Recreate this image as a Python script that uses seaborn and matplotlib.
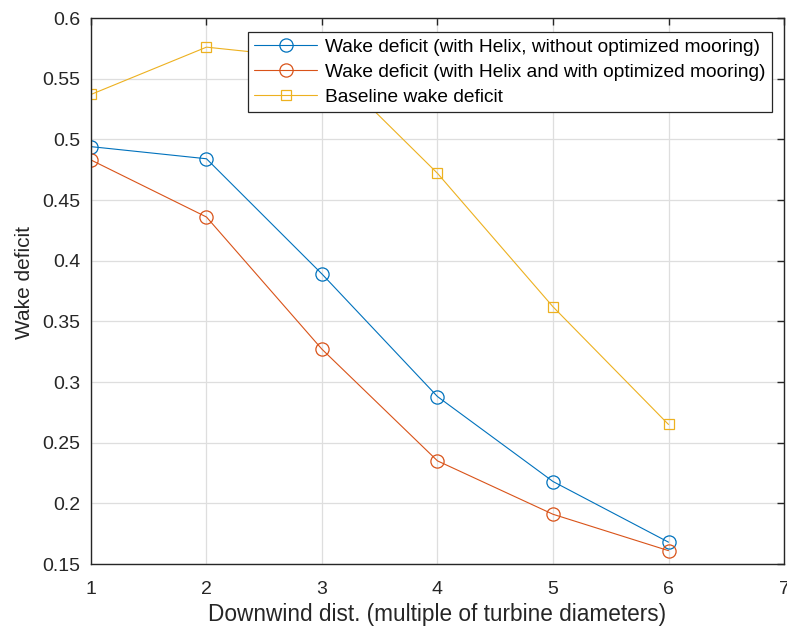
import matplotlib
matplotlib.use("Agg")
import matplotlib.pyplot as plt
import seaborn as sns
import pandas as pd

dist = [1, 2, 3, 4, 5, 6]
helix_no_mooring = [0.494, 0.484, 0.389, 0.288, 0.218, 0.168]
helix_mooring = [0.483, 0.436, 0.327, 0.235, 0.191, 0.161]
baseline = [0.537, 0.576, 0.566, 0.472, 0.362, 0.265]

labels = ["Wake deficit (with Helix, without optimized mooring)",
          "Wake deficit (with Helix and with optimized mooring)",
          "Baseline wake deficit"]
colors = ["#0072BD", "#D95319", "#EDB120"]
markers = ["o", "o", "s"]
msizes = [9.5, 9.5, 7.5]

sns.set_style("white")
plt.rcParams['font.family'] = ['Liberation Sans', 'DejaVu Sans']

fig = plt.figure(figsize=(7.87, 6.28), dpi=100)
ax = fig.add_axes([0.1156, 0.1019, 0.8806, 0.8694])

for vals, lab, c, m, ms in zip([helix_no_mooring, helix_mooring, baseline], labels, colors, markers, msizes):
    df = pd.DataFrame({"x": dist, "y": vals})
    sns.lineplot(data=df, x="x", y="y", ax=ax, color=c, marker=m, markersize=ms,
                 markerfacecolor="none", markeredgecolor=c, markeredgewidth=0.9,
                 linewidth=0.8, label=lab)

ax.set_xlim(1, 7)
ax.set_ylim(0.15, 0.6)
ax.set_xticks([1, 2, 3, 4, 5, 6, 7])
ax.set_yticks([0.15, 0.2, 0.25, 0.3, 0.35, 0.4, 0.45, 0.5, 0.55, 0.6])
ax.set_yticklabels(["0.15", "0.2", "0.25", "0.3", "0.35", "0.4", "0.45", "0.5", "0.55", "0.6"])
ax.grid(True, color="#dedede", linewidth=0.9)
ax.set_axisbelow(True)
for s in ax.spines.values():
    s.set_color("#262626")
    s.set_linewidth(1.0)
ax.tick_params(direction="in", length=5, width=1.0, color="#262626",
               top=True, right=True, labelsize=14, labelcolor="#262626")
ax.tick_params(axis="y", pad=7.5)
ax.tick_params(axis="x", pad=12)
ax.set_xlabel("Downwind dist. (multiple of turbine diameters)", fontsize=16.3, color="#262626", labelpad=3.5)
ax.set_ylabel("Wake deficit", fontsize=15, color="#262626")
ax.yaxis.set_label_coords(-0.082, 0.516)

leg = ax.legend(loc="upper right", bbox_to_anchor=(0.983, 0.974), fontsize=13.8,
                frameon=True, fancybox=False, edgecolor="#262626", framealpha=1,
                handlelength=3.3, borderpad=0.33, labelspacing=0.4, handletextpad=0.42,
                borderaxespad=0)
leg.get_frame().set_linewidth(0.9)
for t in leg.get_texts():
    t.set_color("#000000")

fig.savefig("out.png", dpi=100)
